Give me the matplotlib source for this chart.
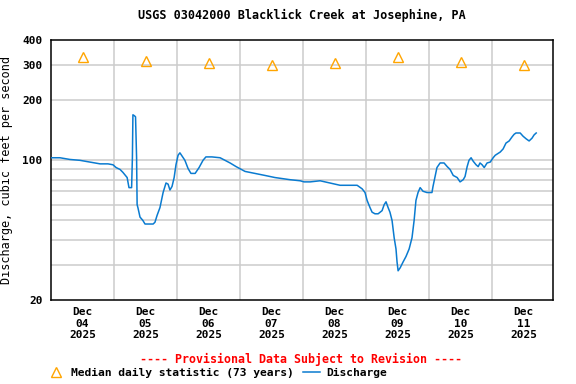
import pandas as pd
import matplotlib.pyplot as plt
from matplotlib.lines import Line2D

# Discharge readings, hours after 2025-12-04 00:00 and cubic feet per second
hours = [0.0, 3.4, 7.2, 11.0, 14.9, 18.7, 21.7, 23.6, 24.8, 26.3, 27.4, 29.0,
         29.7, 30.7, 31.0, 31.2, 31.8, 32.2, 32.6, 32.8, 33.1, 33.9, 35.0, 35.8,
         37.7, 38.9, 39.6, 40.4, 41.5, 42.7, 43.8, 44.6, 45.3, 46.1, 46.9, 47.6,
         48.4, 49.1, 51.0, 52.2, 53.3, 54.9, 56.4, 57.9, 59.0, 61.3, 64.4, 68.2,
         70.5, 73.9, 77.7, 81.5, 85.3, 91.0, 94.9, 96.4, 98.7, 102.5, 106.3, 110.1,
         113.9, 116.6, 118.5, 119.6, 120.4, 121.5, 122.3, 123.4, 124.6, 126.1, 126.9, 127.6,
         128.4, 129.1, 129.9, 130.7, 131.4, 131.8, 132.2, 133.0, 134.1, 135.2, 136.4, 137.5,
         138.3, 139.0, 139.8, 140.6, 141.7, 143.2, 144.4, 145.1, 145.5, 146.3, 147.0, 148.2,
         149.7, 150.9, 152.0, 153.2, 154.7, 155.8, 157.0, 157.7, 158.5, 159.2, 160.0, 160.8,
         161.9, 162.7, 163.4, 164.2, 165.0, 166.1, 167.3, 168.4, 169.2, 171.1, 172.2, 173.3,
         174.5, 175.6, 176.4, 177.1, 178.7, 179.8, 181.0, 182.1, 183.2, 184.0, 184.8]
discharge = [103, 103, 101, 100, 98, 96, 96, 95, 92, 90, 87, 82,
             73, 73, 103, 169, 167, 165, 103, 60, 58, 52, 50, 48,
             48, 48, 49, 53, 58, 69, 77, 76, 71, 74, 82, 95,
             106, 109, 100, 91, 86, 86, 92, 100, 104, 104, 103, 97,
             93, 88, 86, 84, 82, 80, 79, 78, 78, 79, 77, 75,
             75, 75, 72, 69, 63, 58, 55, 54, 54, 56, 60, 62,
             58, 55, 50, 41, 36, 31, 28, 29, 31, 33, 36, 41,
             50, 63, 69, 73, 70, 69, 69, 69, 74, 83, 92, 97,
             97, 93, 90, 84, 82, 78, 80, 83, 93, 100, 103, 99,
             95, 93, 97, 95, 92, 97, 98, 103, 106, 110, 114, 122,
             125, 131, 135, 137, 137, 132, 128, 125, 129, 134, 137]

# Median daily statistic (73 years), plotted at noon
median_days = ["2025-12-04", "2025-12-05", "2025-12-06", "2025-12-07",
               "2025-12-08", "2025-12-09", "2025-12-10", "2025-12-11"]
median_values = [329, 314, 307, 300, 307, 329, 310, 300]

y_ticks = [20, 100, 200, 300, 400]
y_grid = [30, 40, 50, 60, 70, 80, 90, 100, 200, 300]

start = pd.Timestamp("2025-12-04")
times = start + pd.to_timedelta(hours, unit="h")
median_times = pd.to_datetime(median_days) + pd.Timedelta(hours=12)

plt.rcParams["font.family"] = "DejaVu Sans Mono"
plt.rcParams["font.weight"] = "bold"
plt.rcParams["font.size"] = 8

fig = plt.figure(figsize=(5.76, 3.84), dpi=100)
ax = fig.add_axes([51 / 576, 1 - 300 / 384, 502 / 576, 260 / 384])

grid_color = "#cccccc"
for v in y_grid:
    ax.axhline(v, color=grid_color, lw=1.1, zorder=1)
for d in range(1, 8):
    ax.axvline(start + pd.Timedelta(days=d), color=grid_color, lw=1.1, zorder=1)

ax.plot(times, discharge, color="#0a7bd0", lw=1.1, zorder=3)
ax.plot(median_times, median_values, linestyle="none", marker="^", ms=7,
        mfc="none", mec="#ffa500", mew=1.0, zorder=4)

ax.set_yscale("log")
ax.set_ylim(20, 400)
ax.set_yticks(y_ticks)
ax.set_yticklabels([str(v) for v in y_ticks])
ax.yaxis.set_minor_locator(plt.NullLocator())
ax.set_xlim(start, start + pd.Timedelta(hours=191.2))
ax.set_xticks(median_times)
ax.set_xticklabels([t.strftime("%b\n%d\n%Y") for t in median_times], linespacing=1.2)
ax.tick_params(length=0)
ax.tick_params(axis="x", pad=5)
ax.tick_params(axis="y", pad=6)
for s in ax.spines.values():
    s.set_linewidth(1.1)

ax.set_ylabel("Discharge, cubic feet per second", fontsize=8.6, labelpad=7)
ax.set_title("USGS 03042000 Blacklick Creek at Josephine, PA", fontsize=8.5,
             fontweight="bold", pad=15)

fig.text(301 / 576, 1 - 359 / 384, "---- Provisional Data Subject to Revision ----",
         color="red", ha="center", va="center", fontsize=8.4)

handles = [Line2D([], [], linestyle="none", marker="^", ms=7, mfc="none",
                  mec="#ffa500", mew=1.0),
           Line2D([], [], color="#0a7bd0", lw=1.1)]
fig.legend(handles, ["Median daily statistic (73 years)", "Discharge"],
           loc="center left", bbox_to_anchor=(48 / 576, 1 - 372.5 / 384),
           ncol=2, frameon=False, borderpad=0, borderaxespad=0,
           handlelength=1.5, handletextpad=0.55, columnspacing=0.8,
           prop={"size": 8.1, "weight": "bold"})

fig.savefig("out.png", dpi=100)
